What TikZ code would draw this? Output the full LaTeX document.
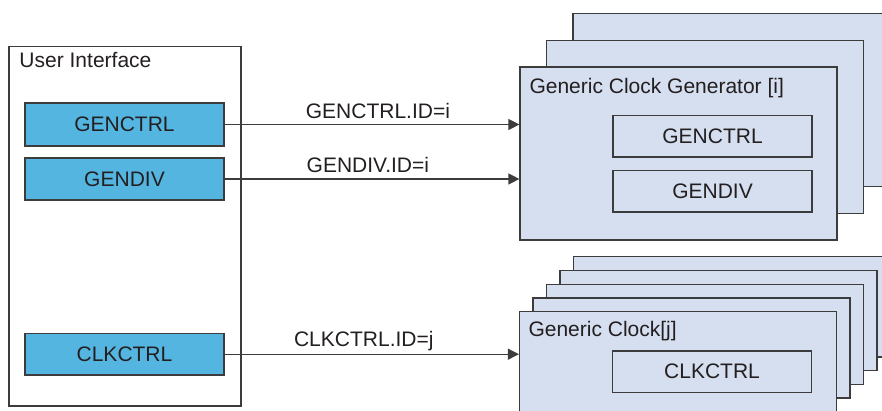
\documentclass[tikz,border=0pt]{standalone}
\usepackage{fontspec}
\setmainfont{Liberation Sans}
\usetikzlibrary{arrows.meta}
\definecolor{regblue}{RGB}{85,181,225}
\definecolor{stackfill}{RGB}{213,223,239}
\definecolor{linegray}{RGB}{60,60,60}
\definecolor{txtgray}{RGB}{35,31,32}

\begin{document}
\begin{tikzpicture}[x=1pt, y=-1pt, font=\fontsize{21}{25}\selectfont, text=txtgray,
  reg/.style={rectangle, draw=linegray, line width=1.2pt, fill=regblue, minimum width=199pt, minimum height=42pt, inner sep=0pt},
  inreg/.style={rectangle, draw=linegray, line width=1.2pt, fill=stackfill, minimum width=199pt, minimum height=41.5pt, inner sep=0pt},
  unit/.style={rectangle, draw=linegray, line width=1.2pt, fill=stackfill, minimum width=317pt, inner sep=0pt},
  title/.style={anchor=base west, inner sep=0pt},
  lbl/.style={anchor=base, yshift=6pt, inner sep=0pt},
  conn/.style={draw=linegray, line width=1.2pt, -{Triangle[length=11pt, width=11pt]}}]
\useasboundingbox (0,0) rectangle (882,411);
\clip (0,0) rectangle (882,411);

\foreach \k in {2,1}
  \node[unit, minimum height=173pt] (gen\k) at ({678.5+26.5*\k},{153.5-26.7*\k}) {};
\node[unit, minimum height=173pt] (gen) at (678.5,153.5) {};
\node[title] (gentitle) at (529.3,93.3) {Generic Clock Generator [i]};
\node[inreg] (genctrl) at (712.5,136.2) {GENCTRL};
\node[inreg] (gendiv) at (712.5,191.2) {GENDIV};

\foreach \k in {4,3,2,1}
  \node[unit, minimum height=100pt] (clk\k) at ({678+13.5*\k},{361.7-13.7*\k}) {};
\node[unit, minimum height=100pt] (clk) at (678,361.7) {};
\node[title] (clktitle) at (528.3,336.7) {Generic Clock[j]};
\node[inreg] (clkctrl) at (712,371.7) {CLKCTRL};

\node[rectangle, draw=linegray, line width=1.2pt, minimum width=232pt, minimum height=359.5pt] (ui) at (125,226.25) {};
\node[title] (uititle) at (19.3,67.3) {User Interface};
\node[reg, minimum height=43pt] (ugenctrl) at (124.5,124.5) {GENCTRL};
\node[reg] (ugendiv) at (124.5,179) {GENDIV};
\node[reg, minimum height=41.7pt] (uclkctrl) at (124.5,354.2) {CLKCTRL};

\draw[conn] (ugenctrl.east) -- node[lbl, pos=0.52] {GENCTRL.ID=i} (ugenctrl.east -| gen.west);
\draw[conn] (ugendiv.east) -- node[lbl, pos=0.486] {GENDIV.ID=i} (ugendiv.east -| gen.west);
\draw[conn] (uclkctrl.east) -- node[lbl, pos=0.473, yshift=2pt] {CLKCTRL.ID=j} (uclkctrl.east -| clk.west);
\end{tikzpicture}
\end{document}
